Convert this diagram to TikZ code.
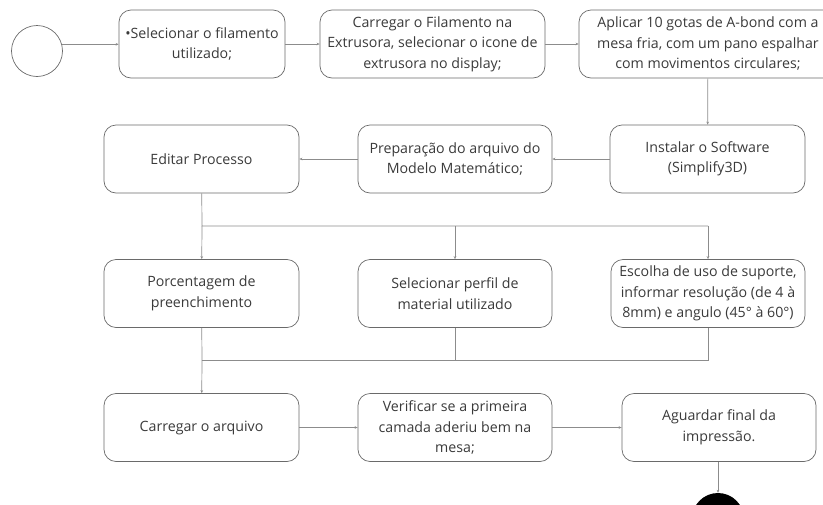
\documentclass[tikz,border=0pt]{standalone}
\usepackage{fontspec}
\setmainfont{Open Sans}
\usetikzlibrary{arrows.meta}
\definecolor{boxline}{HTML}{6A6A6A}
\definecolor{wire}{HTML}{8C8C8C}
\definecolor{ink}{HTML}{3A3A3A}
\begin{document}
\begin{tikzpicture}[x=1pt,y=-1pt,
  stepbox/.style={draw=boxline,line width=0.7pt,rounded corners=12pt,
    minimum height=68pt,align=center,text=ink,inner sep=2pt,
    font=\fontsize{14.2}{20.5}\selectfont},
  wire/.style={draw=wire,line width=0.7pt},
  flow/.style={wire,-{Stealth[length=3pt,width=2.6pt]}}]
\useasboundingbox (0,0) rectangle (823,504);
\clip (0,0) rectangle (823,504);

% start and end markers
\node[draw=boxline,line width=0.7pt,circle,minimum size=51pt,inner sep=0pt] (start) at (37,51) {};
\node[fill=black,circle,minimum size=52pt,inner sep=0pt] (stop) at (718,519) {};

% first row
\node[stepbox,minimum width=166pt] (sel) at (202,44) {•Selecionar o filamento\\utilizado;};
\node[stepbox,minimum width=225pt] (load) at (432.5,44) {Carregar o Filamento na\\Extrusora, selecionar o icone de\\extrusora no display;};
\node[stepbox,minimum width=258pt] (glue) at (708,44) {Aplicar 10 gotas de A-bond com a\\mesa fria, com um pano espalhar\\com movimentos circulares;};

% second row
\node[stepbox,minimum width=195pt] (inst) at (707.5,159) {Instalar o Software\\(Simplify3D)};
\node[stepbox,minimum width=194pt] (prep) at (455,159) {Preparação do arquivo do\\Modelo Matemático;};
\node[stepbox,minimum width=195pt] (edit) at (201.5,159) {Editar Processo};

% third row
\node[stepbox,minimum width=195pt] (fill) at (201.5,293.5) {Porcentagem de\\preenchimento};
\node[stepbox,minimum width=194pt] (mat) at (455,293.5) {Selecionar perfil de\\material utilizado};
\node[stepbox,minimum width=194pt] (supp) at (708,293.5) {Escolha de uso de suporte,\\informar resolução (de 4 à\\8mm) e angulo (45° à 60°)};

% fourth row
\node[stepbox,minimum width=195pt] (file) at (201.5,427.5) {Carregar o arquivo};
\node[stepbox,minimum width=194pt] (check) at (455,427.5) {Verificar se a primeira\\camada aderiu bem na\\mesa;};
\node[stepbox,minimum width=194pt] (wait) at (719,427.5) {Aguardar final da\\impressão.};

% branch points
\coordinate (split) at (202,226);
\coordinate (merge) at (202,360);

% connectors
\draw[flow] (start.15) -- (start.15 -| sel.west);
\draw[flow] (sel) -- (load);
\draw[flow] (load) -- (glue);
\draw[flow] (glue) -- (inst);
\draw[flow] (inst) -- (prep);
\draw[flow] (prep) -- (edit);
\draw[wire] (edit) -- (split) -- (split -| supp);
\draw[flow] (split) -- (fill);
\draw[flow] (split -| mat) -- (mat);
\draw[flow] (split -| supp) -- (supp);
\draw[wire] (fill) -- (merge);
\draw[wire] (mat) -- (merge -| mat);
\draw[wire] (supp) -- (merge -| supp) -- (merge);
\draw[flow] (merge) -- (file);
\draw[flow] (file) -- (check);
\draw[flow] (check) -- (wait);
\draw[flow] (wait.south -| stop) -- (stop);
\end{tikzpicture}
\end{document}
